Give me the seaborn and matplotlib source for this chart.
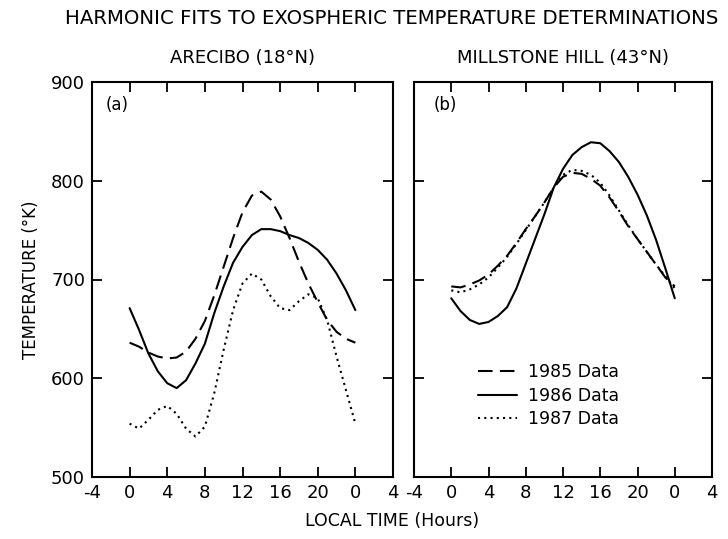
import numpy as np
import pandas as pd
import matplotlib
matplotlib.use("Agg")
import matplotlib.pyplot as plt
import seaborn as sns

hours = list(range(0, 25))
years = ["1985 Data", "1986 Data", "1987 Data"]

# Arecibo (18N)
arecibo_1985 = [636, 632, 626, 622, 620, 621, 627, 640, 658, 684, 713, 742, 768,
                785, 789, 781, 764, 742, 718, 696, 677, 659, 647, 640, 636]
arecibo_1986 = [671, 649, 625, 607, 595, 590, 598, 615, 635, 666, 693, 717, 733,
                745, 751, 751, 749, 745, 742, 737, 730, 720, 706, 689, 669]
arecibo_1987 = [554, 549, 558, 568, 572, 564, 549, 541, 551, 585, 629, 669, 696,
                706, 700, 683, 671, 669, 678, 685, 681, 659, 622, 588, 554]

# Millstone Hill (43N)
millstone_1985 = [693, 692, 695, 699, 705, 714, 724, 737, 751, 764, 778, 793, 804,
                  808, 807, 802, 795, 783, 769, 754, 741, 728, 715, 702, 693]
millstone_1986 = [681, 668, 659, 655, 657, 663, 672, 691, 716, 741, 766, 793, 812,
                  826, 834, 839, 838, 830, 819, 804, 786, 765, 740, 711, 681]
millstone_1987 = [689, 687, 690, 695, 702, 712, 723, 736, 750, 764, 778, 793, 806,
                  811, 810, 806, 798, 785, 770, 755, 741, 728, 715, 703, 691]

xticks = [-4, 0, 4, 8, 12, 16, 20, 24, 28]
xticklabels = ["-4", "0", "4", "8", "12", "16", "20", "0", "4"]
yticks = [500, 600, 700, 800, 900]


def frame(series):
    rows = []
    for name, vals in zip(years, series):
        for h, v in zip(hours, vals):
            rows.append({"hour": h, "temp": v, "year": name})
    return pd.DataFrame(rows)


df_a = frame([arecibo_1985, arecibo_1986, arecibo_1987])
df_b = frame([millstone_1985, millstone_1986, millstone_1987])

sns.set_style("ticks")
plt.rcParams["font.family"] = ["DejaVu Sans"]
plt.rcParams["text.color"] = "black"
plt.rcParams["axes.labelcolor"] = "black"

fig = plt.figure(figsize=(7.28, 5.39), dpi=100)
ax1 = fig.add_axes([92 / 728, 1 - 477 / 539, 301 / 728, 395 / 539])
ax2 = fig.add_axes([414 / 728, 1 - 477 / 539, 298 / 728, 395 / 539])

dashes = {"1985 Data": (7, 3.5), "1986 Data": "", "1987 Data": (1, 2.0)}

for ax, df in ((ax1, df_a), (ax2, df_b)):
    sns.lineplot(data=df, x="hour", y="temp", style="year", dashes=dashes,
                 color="black", linewidth=1.5, ax=ax, legend=False,
                 style_order=years)
    ax.set_xlim(-4, 28)
    ax.set_ylim(500, 900)
    ax.set_xticks(xticks)
    ax.set_yticks(yticks)
    ax.tick_params(direction="in", length=7, width=1.3, top=True, right=True,
                   labelsize=13, colors="black", pad=5)
    for sp in ax.spines.values():
        sp.set_linewidth(1.5)
        sp.set_color("black")
        sp.set_visible(True)
    ax.set_xlabel("")
    ax.set_ylabel("")

ax1.set_xticklabels(xticklabels)
ax2.set_xticklabels(xticklabels)
ax2.set_yticklabels([])
ax1.set_ylabel("TEMPERATURE (°K)", fontsize=12, labelpad=8)

ax1.set_title("ARECIBO (18°N)", fontsize=13, pad=14)
ax2.set_title("MILLSTONE HILL (43°N)", fontsize=13, pad=14)
ax1.text(0.045, 0.965, "(a)", transform=ax1.transAxes, fontsize=12, va="top")
ax2.text(0.065, 0.965, "(b)", transform=ax2.transAxes, fontsize=12, va="top")

fig.text(392 / 728, 1 - 18 / 539, "HARMONIC FITS TO EXOSPHERIC TEMPERATURE DETERMINATIONS",
         ha="center", va="center", fontsize=14.2)
fig.text(392 / 728, 1 - 521 / 539, "LOCAL TIME (Hours)", ha="center", va="center",
         fontsize=12.5)

handles = ax2.get_lines()[:3]
ax2.legend(handles, years, loc="upper left", bbox_to_anchor=(0.19, 0.305),
           frameon=False, fontsize=12.5, handlelength=2.3, labelspacing=0.3,
           handletextpad=0.6, borderaxespad=0)

fig.savefig("out.png", dpi=100)
